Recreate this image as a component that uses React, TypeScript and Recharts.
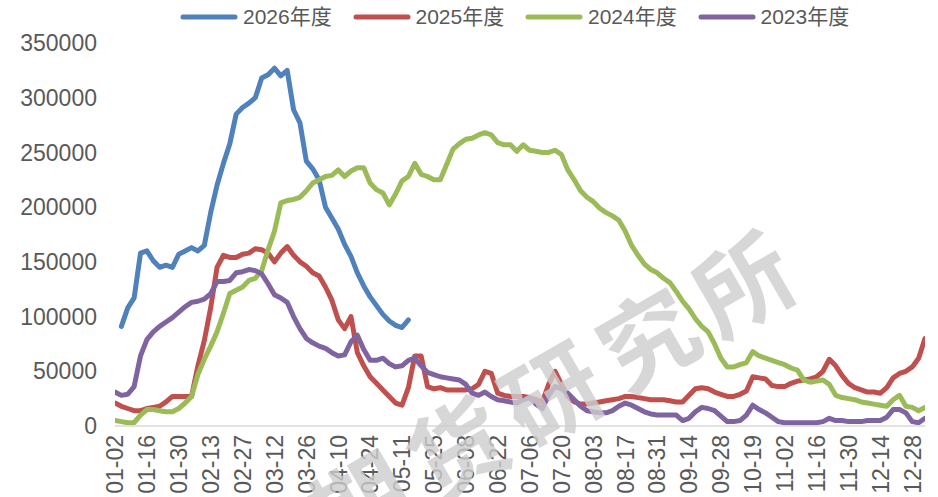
import { LineChart, Line, XAxis, YAxis } from 'recharts';

// x axis: trading-day index, a label every 10 days
const TICK_LABELS = [
  '01-02', '01-16', '01-30', '02-13', '02-27', '03-12', '03-26', '04-10', '04-24',
  '05-11', '05-25', '06-08', '06-22', '07-06', '07-20', '08-03', '08-17', '08-31',
  '09-14', '09-28', '10-19', '11-02', '11-16', '11-30', '12-14', '12-28',
];
const Y_TICKS = [0, 50000, 100000, 150000, 200000, 250000, 300000, 350000];
const LAST_DAY = 254;
const STEP = 2; // one value every 2 trading days (thousands)

const Y2026 = [
  91, 108, 117, 158, 160, 151, 145, 147, 145, 157,
  160, 163, 160, 165, 195, 220, 240, 258, 285, 291,
  295, 300, 318, 321, 327, 320, 325, 289, 277, 242,
  235, 225, 200, 190, 180, 166, 155, 140, 128, 118,
  110, 102, 96, 92, 90, 97,
];

const Y2025 = [
  21, 18, 16, 14, 14, 16, 17, 18, 22, 27,
  27, 27, 27, 55, 78, 108, 145, 156, 154, 154,
  157, 158, 162, 161, 158, 150, 158, 164, 156, 150,
  146, 140, 137, 127, 115, 97, 89, 100, 67, 55,
  45, 39, 33, 27, 21, 19, 35, 64, 64, 36,
  34, 35, 33, 33, 33, 33, 34, 38, 50, 48,
  30, 28, 27, 27, 27, 26, 24, 22, 38, 50,
  38, 27, 22, 20, 20, 21, 22, 23, 24, 25,
  27, 27, 26, 25, 24, 24, 24, 23, 22, 22,
  28, 34, 35, 34, 31, 29, 27, 27, 29, 32,
  45, 44, 43, 37, 36, 36, 39, 41, 42, 43,
  45, 50, 61, 55, 46, 39, 35, 33, 31, 31,
  30, 35, 44, 48, 50, 54, 62, 80,
];

const Y2024 = [
  5, 4, 3, 3, 10, 15, 15, 14, 13, 13,
  16, 21, 27, 47, 61, 73, 86, 103, 121, 124,
  127, 133, 135, 142, 161, 178, 204, 206, 207, 209,
  215, 222, 225, 228, 229, 234, 228, 233, 236, 236,
  222, 216, 213, 202, 212, 224, 228, 240, 230, 228,
  225, 225, 239, 253, 258, 262, 263, 266, 268, 266,
  259, 257, 257, 251, 257, 252, 251, 250, 250, 252,
  248, 234, 225, 215, 209, 205, 199, 195, 192, 188,
  178, 165, 156, 148, 143, 140, 135, 131, 123, 114,
  107, 98, 91, 86, 75, 62, 54, 54, 56, 58,
  68, 64, 62, 60, 58, 56, 53, 51, 42, 40,
  41, 42, 38, 28, 26, 25, 24, 22, 21, 20,
  19, 18, 24, 28, 18, 17, 14, 17,
];

const Y2023 = [
  31, 28, 29, 36, 64, 79, 86, 91, 95, 99,
  104, 109, 113, 114, 116, 121, 132, 132, 133, 140,
  141, 143, 142, 139, 130, 120, 117, 113, 100, 89,
  80, 76, 73, 71, 67, 64, 65, 77, 83, 70,
  60, 60, 62, 57, 54, 55, 60, 62, 55, 49,
  47, 45, 44, 43, 42, 38, 30, 28, 31, 27,
  24, 23, 22, 21, 24, 26, 20, 16, 28, 36,
  34, 30, 24, 18, 14, 13, 12, 12, 14, 18,
  21, 19, 16, 13, 11, 10, 10, 10, 10, 5,
  7, 13, 17, 16, 14, 9, 4, 4, 5, 10,
  19, 15, 12, 8, 4, 3, 3, 3, 3, 3,
  3, 4, 7, 5, 5, 4, 4, 4, 5, 5,
  5, 8, 15, 15, 12, 4, 3, 7,
];

const SERIES = [
  { name: '2026年度', color: '#4F81BD', values: Y2026, start: 2 },
  { name: '2025年度', color: '#C0504D', values: Y2025, start: 0 },
  { name: '2024年度', color: '#9BBB59', values: Y2024, start: 0 },
  { name: '2023年度', color: '#8064A2', values: Y2023, start: 0 },
];

const FONT = '"Liberation Sans", "Noto Sans CJK SC", Arial, sans-serif';
const TEXT = '#595959';

function toPoints(values: number[], start: number) {
  return values.map((v, i) => ({ x: start + i * STEP, y: v * 1000 }));
}

function XTick({ x, y, payload }: any) {
  return (
    <g transform={`translate(${x},${y})`}>
      <text
        transform="rotate(-90)"
        x={-7}
        y={0}
        dy="0.36em"
        textAnchor="end"
        fill={TEXT}
        fontSize={23}
        fontFamily={FONT}
      >
        {TICK_LABELS[Math.round(payload.value / 10)]}
      </text>
    </g>
  );
}

function LegendRow() {
  return (
    <div style={{ position: 'absolute', left: 180, top: 5, display: 'flex', fontFamily: FONT }}>
      {SERIES.map((s) => (
        <div key={s.name} style={{ width: 172.5, display: 'flex', alignItems: 'center' }}>
          <svg width={58} height={10}>
            <line x1={3} y1={5} x2={55} y2={5} stroke={s.color} strokeWidth={5} strokeLinecap="round" />
          </svg>
          <span style={{ marginLeft: 5, fontSize: 21, color: TEXT, lineHeight: '24px' }}>{s.name}</span>
        </div>
      ))}
    </div>
  );
}

// faint diagonal watermark, runs off the bottom edge like the source
function Watermark() {
  return (
    <div
      style={{
        position: 'absolute',
        left: 556,
        top: 386,
        transform: 'translate(-50%, -50%) rotate(-30deg)',
        fontSize: 96,
        fontWeight: 700,
        letterSpacing: 14,
        whiteSpace: 'nowrap',
        color: 'rgba(205,205,205,0.8)',
        fontFamily: '"Noto Sans CJK SC", sans-serif',
        pointerEvents: 'none',
      }}
    >
      期货研究所
    </div>
  );
}

export default function App() {
  return (
    <div style={{ position: 'absolute', left: 0, top: 0, width: 938, height: 497, background: '#fff', overflow: 'hidden' }}>
      <LineChart width={938} height={497} margin={{ top: 43, right: 13, bottom: 0, left: 0 }}>
        <XAxis
          type="number"
          dataKey="x"
          domain={[0, LAST_DAY]}
          ticks={TICK_LABELS.map((_, i) => i * 10)}
          interval={0}
          height={71}
          tick={<XTick />}
          tickLine={false}
          tickSize={0}
          axisLine={{ stroke: '#D9D9D9', strokeWidth: 1.5 }}
          allowDataOverflow
        />
        <YAxis
          type="number"
          domain={[0, 350000]}
          ticks={Y_TICKS}
          interval={0}
          width={115}
          axisLine={false}
          tickLine={false}
          tickSize={0}
          tickMargin={18}
          tick={{ fill: TEXT, fontSize: 23, fontFamily: FONT }}
        />
        {SERIES.map((s) => (
          <Line
            key={s.name}
            data={toPoints(s.values, s.start)}
            dataKey="y"
            name={s.name}
            type="linear"
            stroke={s.color}
            strokeWidth={5}
            strokeLinejoin="round"
            strokeLinecap="round"
            dot={false}
            activeDot={false}
            isAnimationActive={false}
          />
        ))}
      </LineChart>
      <Watermark />
      <LegendRow />
    </div>
  );
}
